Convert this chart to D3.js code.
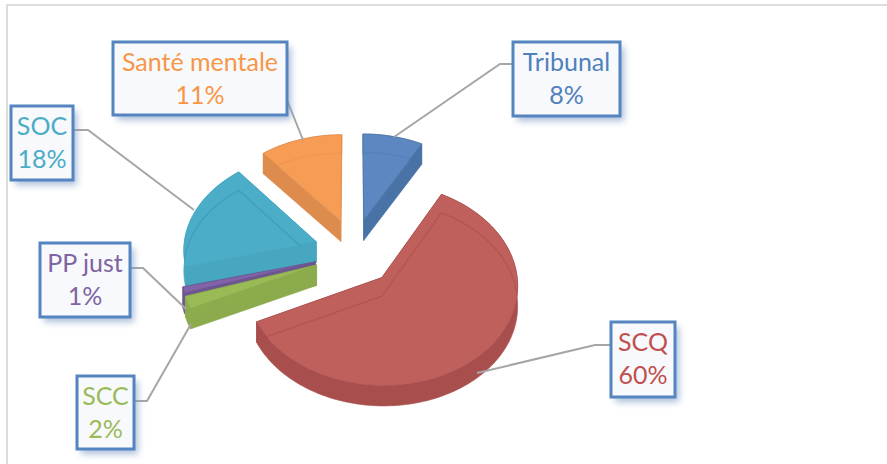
<!DOCTYPE html>
<html><head><meta charset="utf-8">
<script src="https://cdn.jsdelivr.net/npm/d3@7"></script>
<style>html,body{margin:0;padding:0;background:#fff}svg{display:block}</style>
</head><body><svg id="c" width="887" height="464"></svg>
<script>
const categories = ["Tribunal","SCQ","SCC","PP just","SOC","Santé mentale"];
const shares = [8,60,2,1,18,11];
const topColors = ["#5b87c0","#c0605b","#99ba55","#8064a8","#4cadc8","#f79c55"];
const textColors = ["#4f81bd","#c0504d","#9bbb59","#8064a2","#4bacc6","#f79646"];
const wallColors = ["#4a72a6","#a84f4e","#8cab4e","#6c5490","#46a6c0","#dd8c4e"];
const bevelColors = ["#5480b8","#ad5350","#86a54b","#6c5490","#3f9ab4","#ec9550"];
const percentLabels = ["8%","60%","2%","1%","18%","11%"];
// label box layout: x, y, w, h
const boxes = [[513,42,107,74],[611,322,64,75],[77,376,57,73],[40,243,90,74],[11,106,62,74],[113,42,174,73]];
// leader line layout
const leaders = [
 [[513,64],[500,64],[394,137]],
 [[611,345],[595,345],[477,373]],
 [[134,401],[147,401],[191,324]],
 [[130,268],[143,268],[186,309]],
 [[73,130],[88,130],[194,210]],
 [[287,100],[303,140]]
];
// projection of the tilted pie plane
const cx=354, cy=252.3, rx=133, ry=97.5, persp=.07, depth=20.5;
const explodeU=.3, explodeV=.35;

const svg=d3.select("#c");
const defs=svg.append("defs");
const f=defs.append("filter").attr("id","shadow").attr("x","-20%").attr("y","-20%").attr("width","150%").attr("height","150%");
f.append("feGaussianBlur").attr("stdDeviation",3.5);
defs.append("filter").attr("id","soft").append("feGaussianBlur").attr("stdDeviation",.5);

svg.append("path").attr("d","M7,464V5H887").attr("fill","none").attr("stroke","#dcdcdc").attr("stroke-width",2);

const arcs=d3.pie().sort(null).value(d=>d)(shares);
const project=(u,v)=>{const k=1-persp*v;return [cx+rx*u*k, cy-ry*v*k];};
const line=d3.line();
const g=svg.append("g").attr("filter","url(#soft)");
const order=[0,5,4,3,2,1];
order.forEach(i=>{
  const d=arcs[i], m=(d.startAngle+d.endAngle)/2;
  const eu=explodeU*Math.sin(m), ev=explodeV*Math.cos(m);
  const n=Math.max(2,Math.ceil((d.endAngle-d.startAngle)/.03));
  const arc=d3.range(n+1).map(j=>{
    const a=d.startAngle+(d.endAngle-d.startAngle)*j/n;
    return project(eu+Math.sin(a),ev+Math.cos(a));
  });
  const apex=project(eu,ev);
  const s=g.append("g");
  const top=[apex,...arc];
  const down=p=>[p[0],p[1]+depth];
  const wall=pts=>[...pts,...pts.slice().reverse().map(down)];
  s.append("path").attr("d",line(wall(arc))+"Z").attr("fill",wallColors[i]).attr("stroke",wallColors[i]).attr("stroke-width",.6);
  [arc[0],arc[n]].forEach(p=>s.append("path").attr("d",line(wall([apex,p]))+"Z").attr("fill",wallColors[i]).attr("stroke",wallColors[i]).attr("stroke-width",.6));
  defs.append("clipPath").attr("id","clip"+i).append("path").attr("d",line(top)+"Z");
  s.append("path").attr("d",line(top)+"Z").attr("fill",topColors[i]).attr("stroke",wallColors[i]).attr("stroke-opacity",.6).attr("stroke-width",1);
  s.append("g").attr("clip-path",`url(#clip${i})`).append("path").attr("d",line(top)+"Z")
    .attr("transform",`translate(0,${depth-2})`).attr("fill","none").attr("stroke",bevelColors[i]).attr("stroke-opacity",.8).attr("stroke-width",1.3);
});

leaders.forEach(l=>svg.append("path").attr("d",line(l)).attr("fill","none").attr("stroke","#a6a6a6").attr("stroke-width",2));

categories.forEach((c,i)=>{
  const [x,y,w,h]=boxes[i];
  svg.append("rect").attr("x",x+4).attr("y",y+5).attr("width",w).attr("height",h).attr("fill","#7f9cc6").attr("opacity",.65).attr("filter","url(#shadow)");
  svg.append("rect").attr("x",x).attr("y",y).attr("width",w).attr("height",h).attr("fill","#f8f9fc").attr("stroke","#5585c0").attr("stroke-width",3);
  const t=svg.append("text").attr("text-anchor","middle").attr("fill",textColors[i])
    .attr("font-family","Lato, 'Open Sans', sans-serif").attr("font-size",25);
  t.append("tspan").attr("x",x+w/2).attr("y",y+29).text(c);
  t.append("tspan").attr("x",x+w/2).attr("y",y+62).text(percentLabels[i]);
});
</script></body></html>
